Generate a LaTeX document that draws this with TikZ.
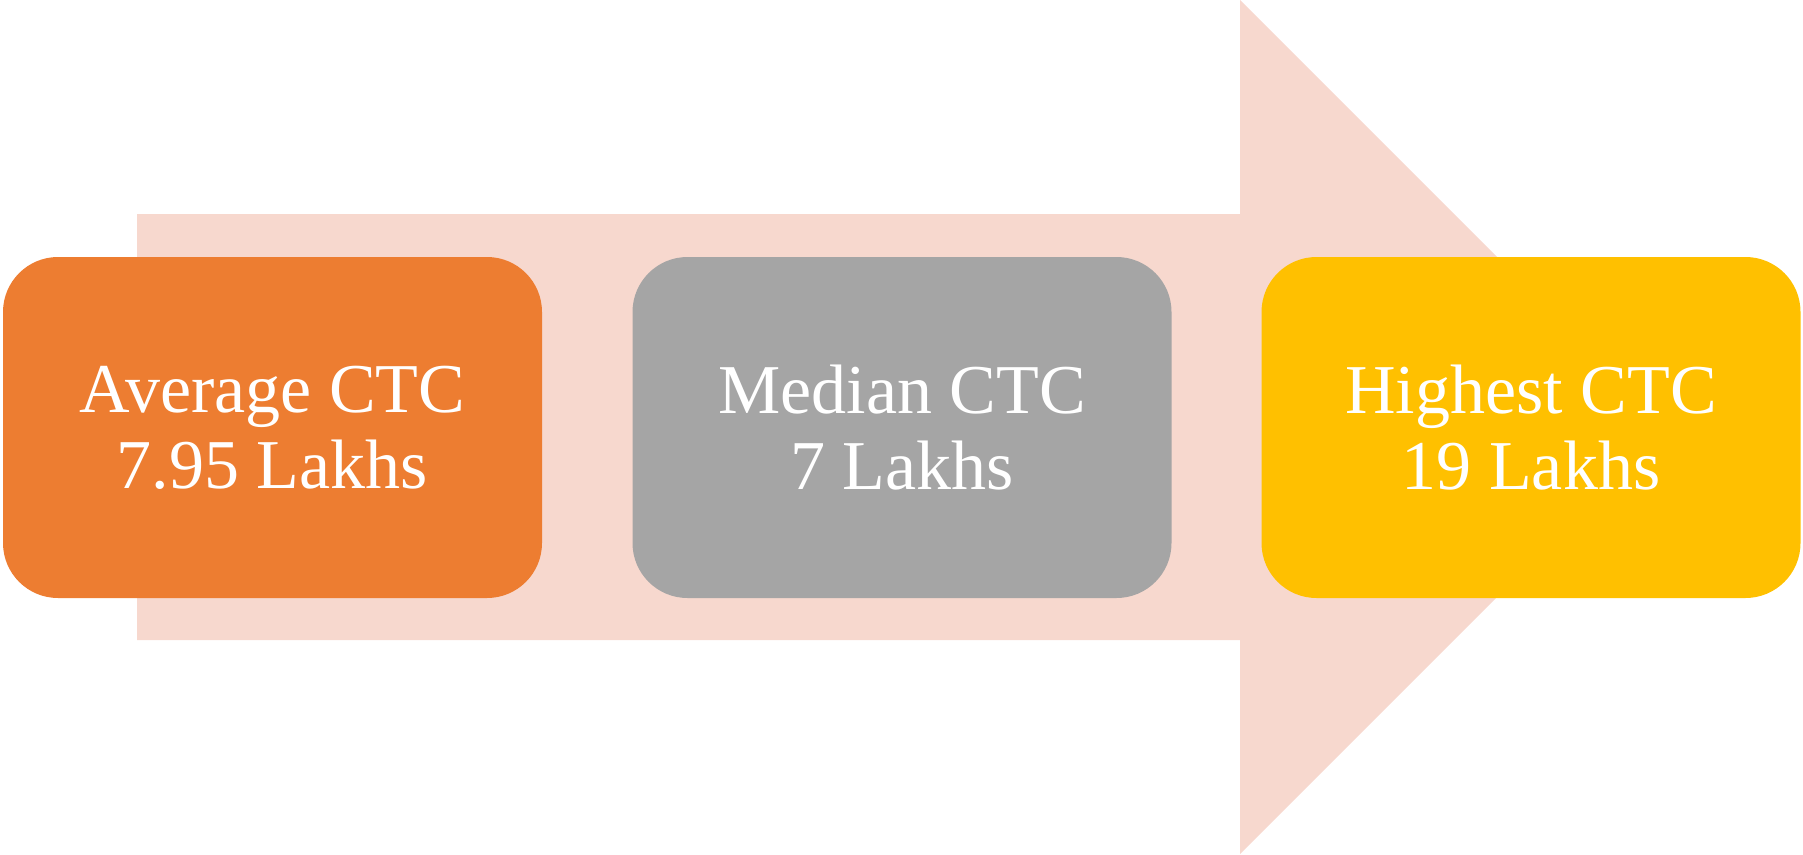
\documentclass[tikz,border=0pt]{standalone}
\usepackage{fontspec}
\setmainfont{Liberation Serif}
\definecolor{arrowfill}{HTML}{F7D8CE}
\definecolor{boxorange}{HTML}{ED7D31}
\definecolor{boxgray}{HTML}{A5A5A5}
\definecolor{boxyellow}{HTML}{FFC000}
\begin{document}
\begin{tikzpicture}[x=1pt,y=-1pt,
  ctcbox/.style={rounded corners=55pt, minimum width=539pt, minimum height=341pt,
    inner sep=0pt, text=white, align=center,
    font=\fontsize{70}{76}\selectfont}]
\useasboundingbox (0,0) rectangle (1803,854);
\fill[arrowfill] (137,214) -- (1240,214) -- (1240,0) -- (1667,427) -- (1240,854) -- (1240,640) -- (137,640) -- cycle;
\node[ctcbox, fill=boxorange] (avg) at (272.5,427.5) {Average CTC\\7.95 Lakhs};
\node[ctcbox, fill=boxgray] (med) at (902,427.5) {Median CTC\\7 Lakhs};
\node[ctcbox, fill=boxyellow] (high) at (1531,427.5) {Highest CTC\\19 Lakhs};
\end{tikzpicture}
\end{document}
